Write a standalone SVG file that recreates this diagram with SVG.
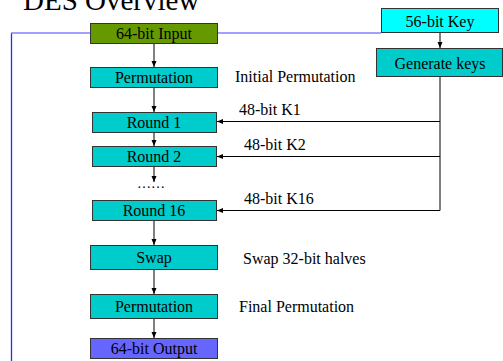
<svg xmlns="http://www.w3.org/2000/svg" width="503" height="361" viewBox="0 0 503 361" font-family="'Liberation Serif', 'Times New Roman', serif">
<defs>
<marker id="ah" viewBox="0 0 6 6" refX="6" refY="3" markerWidth="6" markerHeight="6" markerUnits="userSpaceOnUse" orient="auto">
<path d="M0,0.5 L6,3 L0,5.5 z" fill="#000"/>
</marker>
<style>
.box rect{stroke:#333;stroke-width:1}
.bt{font-size:16px;text-anchor:middle}
.lbl{font-size:16px}
.c{fill:#00cccc}
.arr{stroke:#000;stroke-width:1;fill:none;marker-end:url(#ah)}
.ln{stroke:#000;stroke-width:1;fill:none}
</style>
</defs>
<rect width="503" height="361" fill="#fff"/>
<text x="23" y="10" font-family="'Liberation Serif', serif" font-size="29">DES Overview</text>
<g id="feedback">
<line x1="11.5" y1="33" x2="11.5" y2="361" stroke="#2a2aff" stroke-width="1.3"/>
<line x1="11" y1="33" x2="381" y2="33" stroke="#8080ff" stroke-width="1.6"/>
</g>
<g id="connectors">
<line class="arr" x1="154" y1="43" x2="154" y2="67"/>
<line class="arr" x1="154" y1="87" x2="154" y2="112"/>
<line class="arr" x1="154" y1="132" x2="154" y2="146"/>
<line class="arr" x1="154" y1="167" x2="154" y2="182"/>
<line class="arr" x1="154" y1="221" x2="154" y2="245"/>
<line class="arr" x1="154" y1="269" x2="154" y2="294"/>
<line class="arr" x1="154" y1="318" x2="154" y2="338"/>
<line class="arr" x1="440" y1="33" x2="440" y2="48"/>
<line class="ln" x1="440" y1="77" x2="440" y2="210.5"/>
<line class="arr" x1="440" y1="121.5" x2="217" y2="121.5"/>
<line class="arr" x1="440" y1="156.5" x2="217" y2="156.5"/>
<line class="arr" x1="440" y1="210.5" x2="217" y2="210.5"/>
</g>
<g font-family="'Liberation Serif', serif">
<g id="input" class="box"><rect x="90.5" y="23.5" width="127" height="20" fill="#669900"/><text class="bt" x="154" y="39">64-bit Input</text></g>
<g id="perm1" class="box"><rect class="c" x="90.5" y="67.5" width="127" height="20"/><text class="bt" x="154" y="83">Permutation</text></g>
<g id="round1" class="box"><rect class="c" x="92.5" y="112.5" width="124" height="20"/><text class="bt" x="154" y="128">Round 1</text></g>
<g id="round2" class="box"><rect class="c" x="92.5" y="146.5" width="124" height="20"/><text class="bt" x="154" y="162">Round 2</text></g>
<text x="137" y="188" font-size="14">……</text>
<g id="round16" class="box"><rect class="c" x="92.5" y="200.5" width="124" height="20"/><text class="bt" x="154" y="216">Round 16</text></g>
<g id="swap" class="box"><rect class="c" x="90.5" y="245.5" width="127" height="24"/><text class="bt" x="154" y="263">Swap</text></g>
<g id="perm2" class="box"><rect class="c" x="90.5" y="294.5" width="127" height="24"/><text class="bt" x="154" y="312">Permutation</text></g>
<g id="output" class="box"><rect x="90.5" y="338.5" width="127" height="20" fill="#6666ff"/><text class="bt" x="154" y="354">64-bit Output</text></g>
<g id="key" class="box"><rect x="381.5" y="8.5" width="117" height="24" fill="#00ffff"/><text class="bt" x="440" y="27">56-bit Key</text></g>
<g id="genkeys" class="box"><rect class="c" x="376.5" y="48.5" width="126" height="28"/><text class="bt" x="440" y="69">Generate keys</text></g>
<g id="labels">
<text class="lbl" x="235" y="82">Initial Permutation</text>
<text class="lbl" x="239" y="115">48-bit K1</text>
<text class="lbl" x="244" y="150">48-bit K2</text>
<text class="lbl" x="244" y="204">48-bit K16</text>
<text class="lbl" x="243" y="264">Swap 32-bit halves</text>
<text class="lbl" x="239" y="312">Final Permutation</text>
</g>
</g>
</svg>
